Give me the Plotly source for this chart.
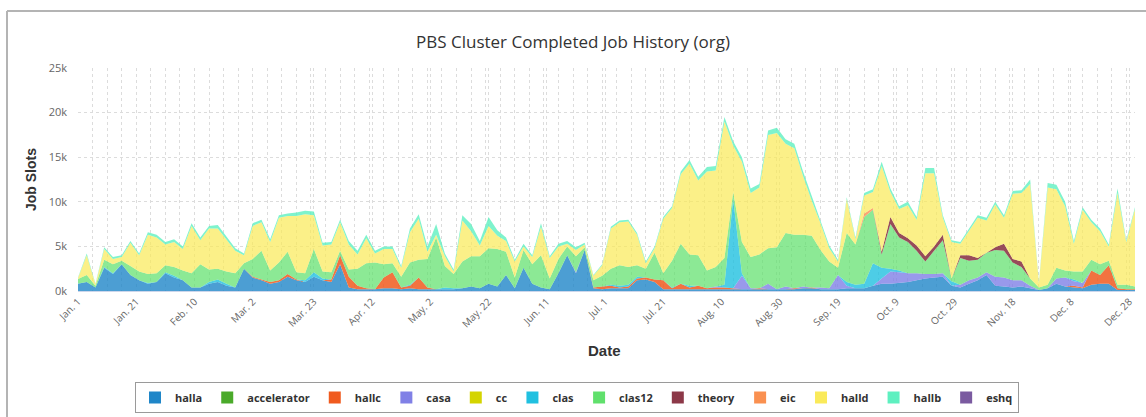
import pandas as pd
import plotly.graph_objects as go

# ---------------- data (values in thousands of job slots, one sample every 3 days) -------------
START = "2019-01-01"
STEP_DAYS = 3
N_POINTS = 122
DATES = pd.date_range(START, periods=N_POINTS, freq=f"{STEP_DAYS}D")

HALLA_K = [
    0.8, 1.0, 0.4, 2.6, 1.9, 3.0, 1.8, 1.2, 0.8, 1.0,
    2.0, 1.5, 1.2, 0.4, 0.4, 0.8, 1.0, 0.6, 0.4, 2.5,
    1.5, 1.2, 0.8, 1.0, 1.6, 1.2, 1.0, 1.6, 1.2, 1.0,
    3.0, 0.4, 0.2, 0.2, 0.2, 0.3, 0.3, 0.2, 0.3, 0.2,
    0.2, 0.2, 0.2, 0.2, 0.3, 0.5, 0.3, 0.8, 0.5, 1.8,
    0.3, 2.6, 0.8, 0.4, 0.2, 2.0, 4.0, 2.0, 4.6, 0.3,
    0.2, 0.3, 0.3, 0.3, 1.2, 1.3, 1.0, 0.2, 0.2, 0.2,
    0.2, 0.2, 0.2, 0.2, 0.2, 0.2, 0.2, 0.2, 0.2, 0.2,
    0.2, 0.2, 0.2, 0.3, 0.3, 0.2, 0.2, 0.2, 0.3, 0.3,
    0.3, 0.6, 0.8, 0.8, 0.9, 1.0, 1.2, 1.4, 1.5, 1.6,
    0.6, 0.4, 0.8, 1.2, 1.8, 0.6, 0.5, 0.4, 0.5, 0.3,
    0.1, 0.3, 0.8, 0.5, 0.4, 0.3, 0.7, 0.8, 0.8, 0.1,
    0.1, 0.1,
]
ACCELERATOR_K = [
    0, 0, 0, 0, 0, 0, 0, 0, 0, 0,
    0, 0, 0, 0, 0, 0, 0, 0, 0, 0,
    0, 0, 0, 0, 0, 0, 0, 0, 0, 0,
    0, 0, 0, 0, 0, 0, 0, 0, 0, 0,
    0, 0, 0, 0, 0, 0, 0, 0, 0, 0,
    0, 0, 0, 0, 0, 0, 0, 0, 0, 0,
    0, 0, 0, 0, 0, 0, 0, 0, 0, 0,
    0, 0, 0, 0, 0, 0, 0, 0, 0, 0,
    0, 0, 0, 0, 0, 0, 0, 0, 0, 0,
    0, 0, 0, 0, 0, 0, 0, 0, 0, 0,
    0, 0, 0, 0, 0, 0, 0, 0, 0, 0,
    0, 0, 0, 0, 0, 0, 0, 0, 0, 0,
    0, 0,
]
HALLC_K = [
    0, 0, 0, 0, 0, 0, 0, 0, 0, 0,
    0, 0, 0, 0, 0, 0, 0, 0, 0, 0,
    0.1, 0.1, 0.2, 0.2, 0.3, 0.1, 0, 0, 0, 0.3,
    1.0, 1.2, 0.4, 0.1, 0, 1.2, 1.8, 0.2, 0.3, 1.3,
    0.2, 0, 0, 0, 0, 0, 0, 0, 0, 0,
    0, 0, 0, 0, 0, 0, 0, 0, 0, 0.1,
    0.3, 0.3, 0.1, 0.2, 0.2, 0.2, 0.3, 1.0, 0.1, 0.6,
    0.2, 0.4, 0.1, 0.2, 0.2, 0.1, 0, 0, 0.1, 0,
    0, 0, 0.1, 0, 0.1, 0, 0, 0, 0, 0,
    0, 0, 0, 0, 0, 0, 0, 0, 0, 0,
    0, 0, 0, 0, 0, 0, 0, 0, 0, 0,
    0, 0, 0, 0, 0.2, 0.1, 1.6, 1.0, 2.1, 0.2,
    0.1, 0.1,
]
CASA_K = [
    0, 0, 0, 0, 0, 0, 0, 0, 0, 0,
    0, 0, 0, 0, 0, 0, 0, 0, 0, 0,
    0, 0, 0, 0, 0, 0, 0, 0, 0, 0,
    0, 0, 0, 0, 0, 0, 0, 0, 0, 0,
    0, 0, 0, 0, 0, 0, 0, 0, 0, 0,
    0, 0, 0, 0, 0, 0, 0, 0.1, 0, 0,
    0, 0, 0, 0, 0, 0, 0, 0, 0, 0,
    0, 0, 0, 0.1, 0, 0, 1.5, 0.1, 0, 0.6,
    0, 0.3, 0, 0.2, 0, 0.2, 0.1, 1.6, 0.3, 0,
    0, 0, 0.6, 1.4, 1.2, 1.0, 0.8, 0.5, 0.4, 0.4,
    0, 0.3, 0.4, 0.3, 0.3, 1.0, 1.0, 0.8, 0.7, 0.3,
    0, 0, 0.6, 1.0, 0.5, 0.5, 0, 0, 0, 0,
    0, 0,
]
CC_K = [
    0, 0, 0, 0, 0, 0, 0, 0, 0, 0,
    0, 0, 0, 0, 0, 0, 0, 0, 0, 0,
    0, 0, 0, 0, 0, 0, 0, 0, 0, 0,
    0, 0, 0, 0, 0, 0, 0, 0, 0, 0,
    0, 0, 0, 0, 0, 0, 0, 0, 0, 0,
    0, 0, 0, 0, 0, 0, 0, 0, 0, 0,
    0, 0, 0, 0, 0, 0, 0, 0, 0, 0,
    0, 0, 0, 0, 0, 0, 0, 0, 0, 0,
    0, 0, 0, 0, 0, 0, 0, 0, 0, 0,
    0, 0, 0, 0, 0, 0, 0, 0, 0, 0,
    0, 0, 0, 0, 0, 0, 0, 0, 0, 0,
    0, 0, 0, 0, 0, 0, 0, 0, 0, 0,
    0, 0,
]
CLAS_K = [
    0.05, 0, 0, 0.1, 0.1, 0, 0, 0, 0.1, 0,
    0.1, 0.2, 0, 0, 0, 0.2, 0.3, 0.2, 0, 0,
    0, 0, 0, 0, 0, 0, 0.2, 0.5, 0.2, 0,
    0, 0, 0, 0, 0, 0, 0, 0, 0.1, 0,
    0, 0, 0.2, 0.1, 0, 0, 0, 0, 0, 0,
    0, 0, 0, 0, 0, 0, 0, 0, 0, 0,
    0, 0.1, 0.2, 0.2, 0.2, 0, 0, 0, 0.1, 0,
    0.2, 0, 0, 0, 0.3, 10.0, 0.3, 0, 0, 0,
    0, 0, 0, 0, 0, 0, 0, 0, 0.4, 0.4,
    0.5, 2.5, 1.2, 0.3, 0.2, 0, 0, 0, 0, 0,
    0.5, 0, 0, 0, 0, 0, 0, 0, 0, 0,
    0, 0, 0, 0, 0.2, 0, 0, 0, 0, 0,
    0, 0,
]
CLAS12_K = [
    0.5, 0.8, 0.2, 0.8, 1.0, 0.4, 1.0, 1.0, 1.0, 1.0,
    0.8, 1.0, 1.1, 1.6, 2.6, 1.4, 1.2, 1.4, 1.6, 0.6,
    2.0, 3.2, 1.3, 2.0, 2.5, 0.8, 0.8, 2.6, 0.8, 0.8,
    0.5, 0.8, 1.9, 2.8, 3.0, 1.5, 1.0, 1.2, 2.5, 2.0,
    3.2, 5.8, 2.4, 1.6, 3.0, 3.4, 3.6, 4.0, 4.2, 2.6,
    1.2, 2.0, 2.2, 3.6, 1.2, 1.6, 1.0, 1.8, 0.3, 0.8,
    1.2, 1.8, 2.3, 2.0, 1.3, 1.0, 3.0, 0.8, 3.0, 4.5,
    3.5, 3.4, 2.0, 2.2, 3.0, 0.8, 3.5, 3.5, 3.8, 4.0,
    4.7, 6.0, 6.0, 5.8, 5.8, 4.2, 3.0, 0.8, 5.5, 4.5,
    7.5, 6.0, 1.5, 5.0, 3.7, 3.5, 2.5, 1.4, 2.6, 3.7,
    0.3, 3.0, 2.2, 2.0, 2.2, 3.0, 3.0, 2.0, 1.5, 0.8,
    0.3, 0.4, 1.2, 0.8, 0.9, 1.3, 1.2, 1.2, 0.5, 0.4,
    0.5, 0.3,
]
THEORY_K = [
    0, 0, 0, 0, 0, 0, 0, 0, 0, 0,
    0, 0, 0, 0, 0, 0, 0, 0, 0, 0,
    0, 0, 0, 0, 0, 0, 0, 0, 0, 0,
    0, 0, 0, 0, 0, 0, 0, 0, 0, 0,
    0, 0, 0, 0, 0, 0, 0, 0, 0, 0,
    0, 0, 0, 0, 0, 0, 0, 0, 0, 0,
    0, 0, 0, 0, 0, 0, 0, 0, 0, 0,
    0, 0, 0, 0, 0, 0, 0, 0, 0, 0,
    0, 0, 0, 0, 0, 0, 0, 0, 0, 0,
    0, 0, 0.3, 0.8, 0.5, 0.4, 0.6, 0.6, 0.5, 0.6,
    0, 0.3, 0.6, 0.2, 0, 0.3, 0.8, 0.4, 0.6, 0,
    0, 0, 0, 0, 0, 0, 0, 0, 0, 0,
    0, 0,
]
EIC_K = [
    0, 0, 0, 0, 0, 0, 0, 0, 0, 0,
    0, 0, 0, 0, 0, 0, 0, 0, 0, 0,
    0, 0, 0, 0, 0, 0, 0, 0, 0, 0,
    0, 0, 0, 0, 0, 0, 0, 0, 0, 0,
    0, 0, 0, 0, 0, 0, 0, 0, 0, 0,
    0, 0, 0, 0, 0, 0, 0, 0, 0, 0,
    0, 0, 0, 0, 0, 0, 0, 0, 0, 0,
    0, 0, 0, 0, 0, 0, 0, 0, 0, 0,
    0, 0, 0, 0, 0, 0, 0, 0, 0, 0,
    0.4, 0.2, 0, 0, 0, 0, 0, 0, 0, 0,
    0, 0, 0, 0, 0, 0, 0, 0, 0, 0,
    0, 0, 0, 0, 0, 0, 0, 0, 0, 0,
    0, 0,
]
HALLD_K = [
    0.1, 2.2, 0.15, 1.2, 0.6, 0.4, 2.6, 1.8, 4.4, 4.0,
    2.3, 2.8, 2.4, 5.3, 2.7, 4.6, 4.5, 3.5, 2.5, 0.9,
    3.7, 3.2, 3.2, 5.0, 4.0, 6.3, 6.6, 3.8, 2.9, 3.1,
    3.2, 2.8, 1.6, 2.8, 1.0, 1.7, 1.6, 1.0, 3.4, 4.6,
    0.8, 0.3, 1.1, 0.3, 4.6, 2.8, 1.2, 2.5, 1.5, 1.2,
    1.8, 0.4, 0.8, 3.2, 2.3, 1.4, 0.3, 0.7, 0.3, 0.5,
    1.2, 4.5, 4.8, 5.1, 3.4, 0.6, 0.5, 6.1, 5.9, 7.8,
    10.2, 8.4, 11.1, 10.8, 15.3, 5.2, 9.0, 7.2, 7.5, 12.7,
    12.8, 10.0, 9.7, 6.6, 3.9, 3.0, 1.5, 0.7, 3.8, 0.6,
    2.0, 1.8, 9.6, 2.8, 2.7, 3.7, 2.9, 9.3, 8.2, 1.9,
    4.1, 1.3, 2.8, 4.5, 3.6, 4.8, 2.9, 7.3, 7.7, 10.6,
    0.5, 10.9, 8.8, 7.2, 3.1, 6.9, 4.2, 3.7, 1.6, 10.3,
    4.8, 8.7,
]
HALLB_K = [
    0.05, 0.2, 0.05, 0.2, 0.2, 0.2, 0.2, 0.2, 0.3, 0.3,
    0.3, 0.3, 0.3, 0.3, 0.3, 0.3, 0.4, 0.4, 0.3, 0.2,
    0.3, 0.3, 0.3, 0.3, 0.3, 0.4, 0.4, 0.4, 0.3, 0.3,
    0.3, 0.4, 0.4, 0.4, 0.3, 0.3, 0.3, 0.2, 0.4, 0.5,
    0.6, 1.2, 0.3, 0.2, 0.6, 0.8, 0.5, 1.0, 0.6, 0.4,
    0.2, 0.3, 0.2, 0.4, 0.2, 0.3, 0.3, 0.3, 0.2, 0.1,
    0.1, 0.2, 0.2, 0.2, 0.2, 0.2, 0.2, 0.2, 0.2, 0.3,
    0.4, 0.4, 0.5, 0.5, 0.5, 0.5, 0.5, 0.5, 0.4, 0.5,
    0.6, 0.5, 0.5, 0.5, 0.5, 0.4, 0.3, 0.2, 0.2, 0.2,
    0.3, 0.3, 0.5, 0.4, 0.3, 0.4, 0.3, 0.6, 0.6, 0.3,
    0.2, 0.2, 0.2, 0.3, 0.3, 0.3, 0.3, 0.3, 0.3, 0.5,
    0.1, 0.5, 0.5, 0.5, 0.3, 0.3, 0.3, 0.3, 0.2, 0.5,
    0.2, 0.2,
]
ESHQ_K = [
    0, 0, 0, 0, 0, 0, 0, 0, 0, 0,
    0, 0, 0, 0, 0, 0, 0, 0, 0, 0,
    0, 0, 0, 0, 0, 0, 0, 0, 0, 0,
    0, 0, 0, 0, 0, 0, 0, 0, 0, 0,
    0, 0, 0, 0, 0, 0, 0, 0, 0, 0,
    0, 0, 0, 0, 0, 0, 0, 0, 0, 0,
    0, 0, 0, 0, 0, 0, 0, 0, 0, 0,
    0, 0, 0, 0, 0, 0, 0, 0, 0, 0,
    0, 0, 0, 0, 0, 0, 0, 0, 0, 0,
    0, 0, 0, 0, 0, 0, 0, 0, 0, 0,
    0, 0, 0, 0, 0, 0, 0, 0, 0, 0,
    0, 0, 0, 0, 0, 0, 0, 0, 0, 0,
    0, 0,
]

SERIES_NAMES = ["halla", "accelerator", "hallc", "casa", "cc", "clas",
                "clas12", "theory", "eic", "halld", "hallb", "eshq"]
SERIES_VALUES = [HALLA_K, ACCELERATOR_K, HALLC_K, CASA_K, CC_K, CLAS_K,
                 CLAS12_K, THEORY_K, EIC_K, HALLD_K, HALLB_K, ESHQ_K]

TICK_DATES = ["2019-01-01", "2019-01-21", "2019-02-10", "2019-03-02", "2019-03-23",
              "2019-04-12", "2019-05-02", "2019-05-22", "2019-06-11", "2019-07-01",
              "2019-07-21", "2019-08-10", "2019-08-30", "2019-09-19", "2019-10-09",
              "2019-10-29", "2019-11-18", "2019-12-08", "2019-12-28"]
TICK_LABELS = ["Jan. 1", "Jan. 21", "Feb. 10", "Mar. 2", "Mar. 23", "Apr. 12", "May. 2",
               "May. 22", "Jun. 11", "Jul. 1", "Jul. 21", "Aug. 10", "Aug. 30", "Sep. 19",
               "Oct. 9", "Oct. 29", "Nov. 18", "Dec. 8", "Dec. 28"]
Y_TICKS_K = [0, 5, 10, 15, 20, 25]
Y_TICK_LABELS = ["0k", "5k", "10k", "15k", "20k", "25k"]

# ---------------- styles -------------
COLORS = {
    "halla": (31, 134, 200), "accelerator": (74, 170, 42), "hallc": (240, 90, 30),
    "casa": (128, 128, 230), "cc": (212, 212, 0), "clas": (32, 192, 224),
    "clas12": (96, 224, 108), "theory": (140, 56, 72), "eic": (250, 144, 80),
    "halld": (250, 234, 90), "hallb": (94, 240, 192), "eshq": (122, 90, 160),
}
FILL_ALPHA = {"halla": 0.8, "hallc": 0.85, "theory": 0.9, "halld": 0.72, "clas12": 0.72}

fig = go.Figure()
for name, vals in zip(SERIES_NAMES, SERIES_VALUES):
    r, g, b = COLORS[name]
    a = FILL_ALPHA.get(name, 0.8)
    fig.add_trace(go.Scatter(
        x=DATES, y=vals, name=name, stackgroup="one", mode="lines",
        line=dict(width=0, color=f"rgb({r},{g},{b})"),
        fillcolor=f"rgba({r},{g},{b},{a})",
        legendgroup=name, showlegend=False, hoverinfo="skip",
    ))
# legend entries with square swatches
for name in SERIES_NAMES:
    r, g, b = COLORS[name]
    fig.add_trace(go.Scatter(
        x=[None], y=[None], mode="markers", name=name, legendgroup=name,
        marker=dict(symbol="square", size=12, color=f"rgb({r},{g},{b})"),
    ))

W, H = 1146, 417
ML, MR, MT, MB = 78, 11, 68, 126
PW, PH = W - ML - MR, H - MT - MB


def px(x):
    return (x - ML) / PW


def py(y):
    return (H - MB - y) / PH


GRID = "#dcdcdc"
fig.update_layout(
    width=W, height=H,
    margin=dict(l=ML, r=MR, t=MT, b=MB, autoexpand=False),
    paper_bgcolor="white", plot_bgcolor="white",
    title=dict(text="PBS Cluster Completed Job History (org)",
               x=0.5, xref="container", xanchor="center",
               y=1 - 42 / H, yref="container", yanchor="middle",
               font=dict(family="Open Sans", size=17, color="#333333")),
    showlegend=True,
    legend=dict(orientation="h", x=px(577), xanchor="center", y=py(382), yanchor="top",
                bordercolor="#9a9a9a", borderwidth=1, bgcolor="white",
                font=dict(family="Open Sans", size=11, color="#333333", weight="bold"),
                itemsizing="constant", tracegroupgap=0),
    xaxis=dict(
        type="date", range=["2019-01-01", "2019-12-30"], automargin=False,
        tickmode="array", tickvals=TICK_DATES, ticktext=TICK_LABELS, tickangle=-45,
        tickfont=dict(family="Open Sans", size=10, color="#666666"),
        showgrid=True, gridcolor=GRID, griddash="dot", gridwidth=1,
        minor=dict(dtick=5 * 86400000, tick0="2019-01-01", showgrid=True,
                   gridcolor=GRID, griddash="dot", gridwidth=1),
        showline=True, linecolor="#ccd6eb", linewidth=1,
        ticks="", zeroline=False,
    ),
    yaxis=dict(
        range=[0, 25], tickmode="array", tickvals=Y_TICKS_K, ticktext=Y_TICK_LABELS,
        automargin=False,
        tickfont=dict(family="Open Sans", size=11, color="#666666"),
        showgrid=True, gridcolor=GRID, griddash="dot", gridwidth=1,
        zeroline=False, showline=False, ticks="", ticklabelstandoff=10,
    ),
    annotations=[
        dict(text="<b>Job Slots</b>", xref="paper", yref="paper", x=px(31), y=py(180),
             textangle=-90, showarrow=False, xanchor="center", yanchor="middle",
             font=dict(family="Liberation Sans", size=14, color="#333333")),
        dict(text="<b>Date</b>", xref="paper", yref="paper", x=px(604), y=py(350),
             showarrow=False, xanchor="center", yanchor="middle",
             font=dict(family="Liberation Sans", size=15, color="#333333")),
    ],
    shapes=[
        dict(type="line", xref="paper", yref="paper", x0=px(7), x1=px(W), y0=py(11), y1=py(11),
             line=dict(color="#b4b4b4", width=2)),
        dict(type="line", xref="paper", yref="paper", x0=px(7), x1=px(7), y0=py(11), y1=py(H),
             line=dict(color="#b4b4b4", width=2)),
    ],
)

fig.write_html("out.html", config={"displayModeBar": False},
               post_script="document.body.style.margin='0';")
